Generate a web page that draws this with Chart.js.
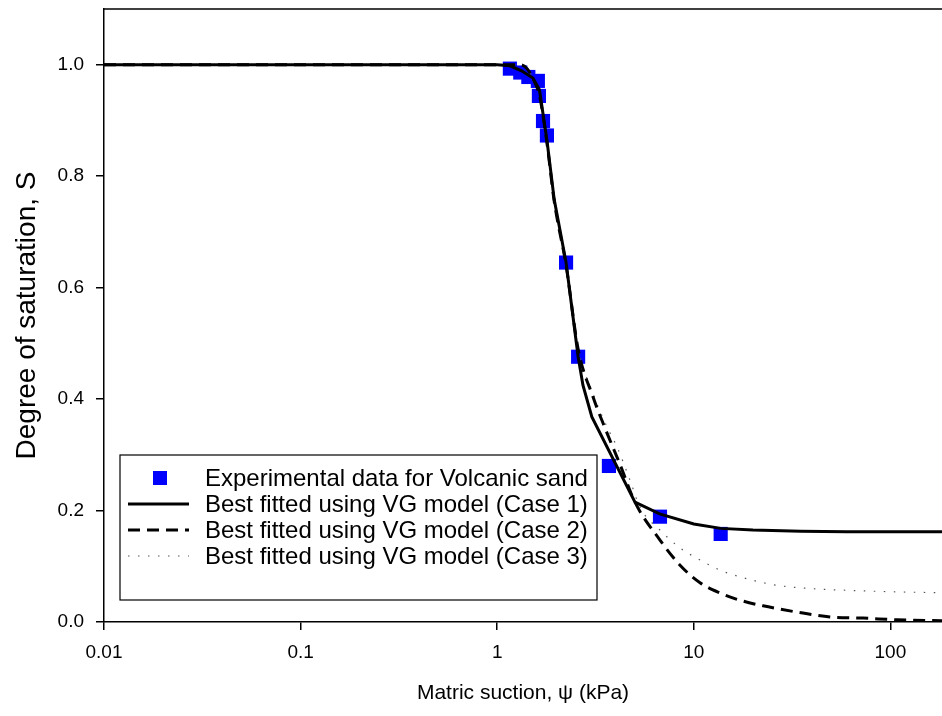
<!DOCTYPE html>
<html><head><meta charset="utf-8">
<script src="https://cdn.jsdelivr.net/npm/chart.js@4.4.1/dist/chart.umd.min.js"></script>
<style>html,body{margin:0;padding:0;background:#fff;}#wrap{position:relative;width:942px;height:716px;}</style>
</head><body><div id="wrap"><canvas id="c" width="942" height="716"></canvas></div>
<script>
// Experimental data (matric suction kPa, degree of saturation)
const expSuction    = [1.16, 1.31, 1.44, 1.61, 1.63, 1.71, 1.79, 2.24, 2.58, 3.70, 6.73, 13.7];
const expSaturation = [0.993, 0.986, 0.978, 0.971, 0.944, 0.899, 0.873, 0.645, 0.476, 0.280, 0.189, 0.158];

// Case 1 (solid)
const case1Suction    = [0.01, 0.1, 1.0, 1.16, 1.33, 1.52, 1.64, 1.79, 1.95, 2.24, 2.58, 2.73, 3.03, 5.02, 6.7, 10, 13.7, 20, 35, 60, 100, 200];
const case1Saturation = [1.0, 1.0, 1.0, 0.998, 0.989, 0.976, 0.955, 0.865, 0.758, 0.645, 0.476, 0.425, 0.368, 0.215, 0.194, 0.176, 0.168, 0.165, 0.163, 0.162, 0.162, 0.162];

// Case 2 (dashed)
const case2Suction    = [0.01, 1.0, 1.3, 1.42, 1.52, 1.64, 1.79, 1.95, 2.24, 2.58, 3.07, 3.62, 4.21, 5.02, 6.73, 8.51, 10.8, 13.6, 17.2, 22.5, 35.9, 49.3, 72.6, 108, 200];
const case2Saturation = [1.0, 1.0, 1.0, 0.993, 0.975, 0.945, 0.86, 0.755, 0.64, 0.49, 0.404, 0.339, 0.283, 0.215, 0.147, 0.102, 0.070, 0.052, 0.039, 0.029, 0.016, 0.009, 0.007, 0.004, 0.002];

// Case 3 (dotted)
const case3Suction    = [0.01, 1.0, 1.3, 1.42, 1.52, 1.64, 1.79, 1.95, 2.24, 2.58, 3.07, 3.62, 4.07, 4.73, 5.33, 6.73, 8.51, 10.8, 13.6, 17.2, 24.4, 30.8, 43.9, 70, 112, 200];
const case3Saturation = [1.0, 1.0, 1.0, 0.993, 0.976, 0.946, 0.862, 0.757, 0.642, 0.492, 0.41, 0.35, 0.314, 0.255, 0.206, 0.165, 0.133, 0.111, 0.093, 0.081, 0.068, 0.063, 0.059, 0.056, 0.054, 0.052];

const seriesLabels = [
  'Experimental data for Volcanic sand',
  'Best fitted using VG model (Case 1)',
  'Best fitted using VG model (Case 2)',
  'Best fitted using VG model (Case 3)'
];

const xTickValues = [0.01, 0.1, 1, 10, 100];
const xTickLabels = ['0.01', '0.1', '1', '10', '100'];
const yTickValues = [0, 0.2, 0.4, 0.6, 0.8, 1.0];
const yTickLabels = ['0.0', '0.2', '0.4', '0.6', '0.8', '1.0'];

const pts = (xs, ys) => xs.map((x, i) => ({x: x, y: ys[i]}));

const FONT = "'Liberation Sans', Arial, Helvetica, sans-serif";
Chart.defaults.font.family = FONT;
Chart.defaults.color = '#000';

const frameAndLegend = {
  id: 'frameAndLegend',
  afterDatasetsDraw(chart) {
    const ctx = chart.ctx, a = chart.chartArea;
    ctx.save();
    ctx.strokeStyle = '#000'; ctx.lineWidth = 1.5;
    ctx.beginPath(); ctx.moveTo(a.left, a.top); ctx.lineTo(a.right, a.top); ctx.stroke();
    const bx = 120, by = 455, bw = 477, bh = 145;
    ctx.fillStyle = '#fff'; ctx.fillRect(bx, by, bw, bh);
    ctx.strokeStyle = '#000'; ctx.lineWidth = 1.2; ctx.strokeRect(bx, by, bw, bh);
    const rows = [478, 504, 530, 556];
    ctx.font = '24px ' + FONT; ctx.textBaseline = 'middle'; ctx.textAlign = 'left';
    chart.data.datasets.forEach((ds, r) => {
      const y = rows[r];
      if (!ds.showLine) {
        ctx.fillStyle = ds.backgroundColor;
        ctx.fillRect(160 - 7, y - 7, 14, 14);
      } else {
        ctx.save();
        ctx.strokeStyle = ds.borderColor; ctx.lineWidth = ds.borderWidth;
        ctx.setLineDash(ds.borderDash || []);
        ctx.beginPath(); ctx.moveTo(128, y); ctx.lineTo(189, y); ctx.stroke();
        ctx.restore();
      }
      ctx.fillStyle = '#000';
      ctx.fillText(ds.label, 205, y + 1);
    });
    ctx.restore();
  }
};

new Chart(document.getElementById('c'), {
  type: 'scatter',
  data: {
    datasets: [
      { label: seriesLabels[0], data: pts(expSuction, expSaturation), showLine: false,
        pointStyle: 'rect', pointRadius: 10, pointBorderWidth: 0, backgroundColor: '#0000FF', borderColor: '#0000FF', order: 10 },
      { label: seriesLabels[1], data: pts(case1Suction, case1Saturation), showLine: true, pointRadius: 0,
        borderColor: '#000', borderWidth: 3, tension: 0, order: 1 },
      { label: seriesLabels[2], data: pts(case2Suction, case2Saturation), showLine: true, pointRadius: 0,
        borderColor: '#000', borderWidth: 3, borderDash: [12, 7], cubicInterpolationMode: 'monotone', order: 2 },
      { label: seriesLabels[3], data: pts(case3Suction, case3Saturation), showLine: true, pointRadius: 0,
        borderColor: '#555', borderWidth: 1.2, borderDash: [1.5, 8.5], cubicInterpolationMode: 'monotone', order: 3 }
    ]
  },
  options: {
    responsive: false, animation: false, devicePixelRatio: 1,
    layout: { autoPadding: false, padding: { top: 9, right: 0, bottom: 0, left: 0 } },
    plugins: { legend: { display: false }, tooltip: { enabled: false } },
    scales: {
      x: {
        type: 'logarithmic', min: 0.01, max: 183,
        afterBuildTicks: s => { s.ticks = xTickValues.map(v => ({ value: v })); },
        afterFit: s => { s.height = 94; s.paddingLeft = 0; s.paddingRight = 0; },
        ticks: { callback: (v, i) => xTickLabels[i], font: { size: 19 }, padding: 11, maxRotation: 0, autoSkip: false, color: '#000' },
        grid: { display: true, drawOnChartArea: false, drawTicks: true, tickLength: 8, color: '#000', lineWidth: 1.5 },
        border: { display: true, color: '#000', width: 1.5 },
        title: { display: true, text: 'Matric suction, \u03C8 (kPa)', font: { size: 21 }, padding: { top: 0, bottom: 10 }, color: '#000' }
      },
      y: {
        type: 'linear', min: 0, max: 1.1,
        afterBuildTicks: s => { s.ticks = yTickValues.map(v => ({ value: v })); },
        afterFit: s => { s.width = 104; s.paddingTop = 0; s.paddingBottom = 0; },
        ticks: { callback: (v, i) => yTickLabels[i], font: { size: 19 }, padding: 12, color: '#000' },
        grid: { display: true, drawOnChartArea: false, drawTicks: true, tickLength: 8, color: '#000', lineWidth: 1.5 },
        border: { display: true, color: '#000', width: 1.5 },
        title: { display: true, text: 'Degree of saturation, S', font: { size: 28 }, padding: { top: 10, bottom: 0 }, color: '#000' }
      }
    }
  },
  plugins: [frameAndLegend]
});
</script></body></html>
